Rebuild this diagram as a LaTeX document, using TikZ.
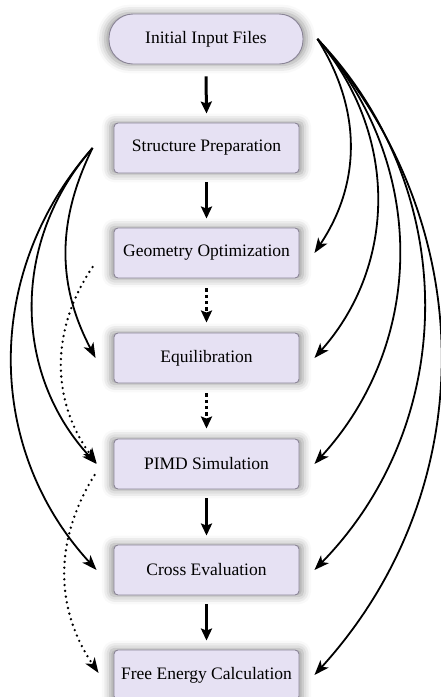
\documentclass[tikz,border=0pt]{standalone}
\usepackage{fontspec}
\setmainfont{Liberation Serif}
\usetikzlibrary{arrows.meta,shadows.blur}
\definecolor{boxfill}{RGB}{230,225,243}
\definecolor{boxline}{RGB}{138,132,150}
\begin{document}
\begin{tikzpicture}[x=1pt,y=1pt,
  stagebox/.style={draw=boxline, line width=0.9pt, fill=boxfill,
    rounded corners=4pt, minimum width=185pt, minimum height=50pt,
    inner sep=0pt, font=\fontsize{17.5}{20}\selectfont,
    blur shadow={shadow xshift=0pt, shadow yshift=0pt,
      shadow blur radius=8pt, shadow opacity=40, shadow scale=1.04}},
  startbox/.style={stagebox, rounded corners=24pt, minimum width=194pt},
  flow/.style={line width=3pt, -{Stealth[length=12pt,width=11pt,inset=2pt]}},
  weakflow/.style={flow, dash pattern=on 3.3pt off 3pt},
  link/.style={line width=1.8pt, -{Stealth[length=15pt,width=11pt,inset=4pt]}},
  hint/.style={line width=2.6pt, line cap=round, dash pattern=on 0pt off 5.8pt,
    -{Stealth[length=15pt,width=11pt,inset=4pt,line cap=butt]}}]
\useasboundingbox (0,0) rectangle (441,-697);

% workflow stages
\node[startbox] (init) at (206,-39)    {Initial Input Files};
\node[stagebox] (sp)   at (206.5,-148) {Structure Preparation};
\node[stagebox] (geo)  at (206.5,-253) {Geometry Optimization};
\node[stagebox] (eq)   at (206.5,-358) {Equilibration};
\node[stagebox] (pimd) at (206.5,-464) {PIMD Simulation};
\node[stagebox] (ce)   at (206.5,-570) {Cross Evaluation};
\node[stagebox] (fe)   at (206.5,-675) {Free Energy Calculation};

% main sequence
\draw[flow]     ([yshift=-12pt]init.south) -- ([yshift=9pt]sp.north);
\draw[flow]     ([yshift=-9pt]sp.south)    -- ([yshift=9pt]geo.north);
\draw[weakflow] ([yshift=-10pt]geo.south)  -- ([yshift=10pt]eq.north);
\draw[weakflow] ([yshift=-10pt]eq.south)   -- ([yshift=10pt]pimd.north);
\draw[flow]     ([yshift=-9pt]pimd.south)  -- ([yshift=9pt]ce.north);
\draw[flow]     ([yshift=-9pt]ce.south)    -- ([yshift=9pt]fe.north);

% input files feed every later stage
\draw[link] ([xshift=14pt]init.east) to[bend left=33] ([xshift=15pt]geo.east);
\draw[link] ([xshift=14pt]init.east) to[bend left=41] ([xshift=15pt]eq.east);
\draw[link] ([xshift=14pt]init.east) to[bend left=42] ([xshift=15pt]pimd.east);
\draw[link] ([xshift=14pt]init.east) to[bend left=44] ([xshift=15pt]ce.east);
\draw[link] ([xshift=14pt]init.east) to[bend left=42] ([xshift=15pt]fe.east);

% prepared structure reused downstream
\draw[link] ([xshift=-21pt]sp.west) to[bend right=27] ([xshift=-18pt]eq.west);
\draw[link] ([xshift=-21pt]sp.west) to[bend right=42] ([xshift=-17pt]pimd.west);
\draw[link] ([xshift=-21pt]sp.west) to[bend right=42] ([xshift=-17pt]ce.west);

% optional hand-overs
\draw[hint] ([xshift=-21pt,yshift=-14pt]geo.west) to[bend right=35] ([xshift=-17pt,yshift=1pt]pimd.west);
\draw[hint] ([xshift=-19pt,yshift=-11pt]pimd.west) to[bend right=33] ([xshift=-15pt,yshift=2pt]fe.west);
\end{tikzpicture}
\end{document}
